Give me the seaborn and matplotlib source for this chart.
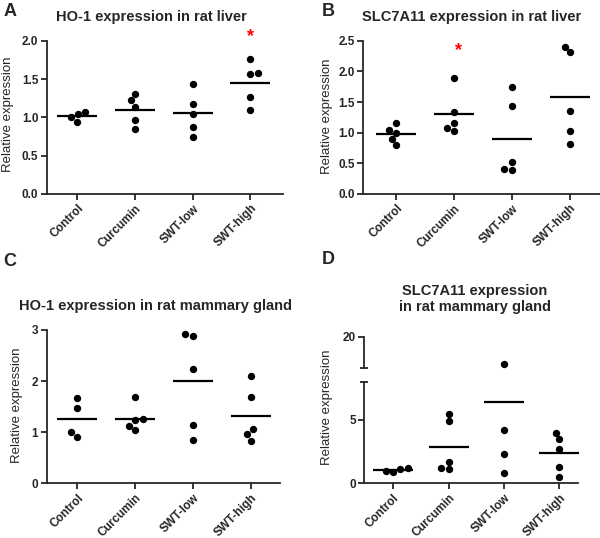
import numpy as np
import pandas as pd
import seaborn as sns
import matplotlib.pyplot as plt

groups = ['Control', 'Curcumin', 'SWT-low', 'SWT-high']

# A: HO-1 in rat liver
ho1_liver_control = [1.05, 1.07, 0.94, 1.00]
ho1_liver_curcumin = [1.31, 1.22, 1.14, 0.97, 0.85]
ho1_liver_swt_low = [1.44, 1.18, 1.04, 0.87, 0.74]
ho1_liver_swt_high = [1.76, 1.57, 1.58, 1.27, 1.09]

# B: SLC7A11 in rat liver
slc_liver_control = [1.16, 1.05, 1.00, 0.90, 0.80]
slc_liver_curcumin = [1.89, 1.34, 1.16, 1.03, 1.08]
slc_liver_swt_low = [1.75, 1.43, 0.52, 0.39, 0.40]
slc_liver_swt_high = [2.40, 2.31, 1.36, 1.03, 0.82]

# C: HO-1 in rat mammary gland
ho1_mam_control = [1.66, 1.48, 0.91, 1.00]
ho1_mam_curcumin = [1.69, 1.23, 1.26, 1.12, 1.04]
ho1_mam_swt_low = [2.93, 2.89, 2.23, 1.15, 0.85]
ho1_mam_swt_high = [2.10, 1.68, 1.06, 0.96, 0.83]

# D: SLC7A11 in rat mammary gland
slc_mam_control = [1.13, 0.87, 0.97, 1.18]
slc_mam_curcumin = [5.45, 4.87, 1.71, 1.13, 1.18]
slc_mam_swt_low = [18.3, 4.21, 2.29, 0.79]
slc_mam_swt_high = [3.97, 3.45, 2.68, 1.26, 0.50]


def long_df(*series):
    rows = []
    for g, vals in zip(groups, series):
        for v in vals:
            rows.append({'group': g, 'value': v})
    return pd.DataFrame(rows)


df_a = long_df(ho1_liver_control, ho1_liver_curcumin, ho1_liver_swt_low, ho1_liver_swt_high)
df_b = long_df(slc_liver_control, slc_liver_curcumin, slc_liver_swt_low, slc_liver_swt_high)
df_c = long_df(ho1_mam_control, ho1_mam_curcumin, ho1_mam_swt_low, ho1_mam_swt_high)
df_d = long_df(slc_mam_control, slc_mam_curcumin, slc_mam_swt_low, slc_mam_swt_high)

sns.set_style('ticks')
plt.rcParams['font.family'] = ['Liberation Sans', 'DejaVu Sans']
plt.rcParams['axes.linewidth'] = 1.3

W, H = 600, 538
fig = plt.figure(figsize=(6, 5.38), dpi=100)


def box(left, top, right, bottom):
    return [left / W, 1 - bottom / H, (right - left) / W, (bottom - top) / H]


def draw(ax, df, xlim, ylim, yticks, ylabels, xlabels=True):
    sns.swarmplot(data=df, x='group', y='value', order=groups, color='black',
                  size=5.3, ax=ax)
    sns.pointplot(data=df, x='group', y='value', order=groups, estimator='mean',
                  errorbar=None, linestyle='none', marker='_', markersize=29,
                  markeredgewidth=1.6, color='black', ax=ax)
    ax.set_xlim(*xlim)
    ax.set_ylim(*ylim)
    ax.set_yticks(yticks)
    ax.set_yticklabels(ylabels, fontweight='bold', fontsize=8.5)
    ax.set_xlabel('')
    ax.set_ylabel('')
    sns.despine(ax=ax)
    ax.tick_params(axis='both', length=4, width=1.3, pad=2)
    if xlabels:
        ax.set_xticks(range(4))
        ax.set_xticklabels(groups, rotation=45, ha='right', rotation_mode='anchor',
                           fontweight='bold', fontsize=8.5)
    else:
        ax.set_xticks([])
        ax.spines['bottom'].set_visible(False)


ax_a = fig.add_axes(box(46.7, 40.7, 282.7, 194))
draw(ax_a, df_a, (-0.53, 3.56), (0, 2.0), [0, 0.5, 1.0, 1.5, 2.0],
     ['0.0', '0.5', '1.0', '1.5', '2.0'])
ax_a.text(3, 2.05, '*', color='red', fontsize=13, fontweight='bold',
          ha='center', va='center', clip_on=False)

ax_b = fig.add_axes(box(363.3, 40.7, 600, 194))
draw(ax_b, df_b, (-0.57, 3.52), (0, 2.5), [0, 0.5, 1.0, 1.5, 2.0, 2.5],
     ['0.0', '0.5', '1.0', '1.5', '2.0', '2.5'])
ax_b.text(1.08, 2.34, '*', color='red', fontsize=13, fontweight='bold',
          ha='center', va='center', clip_on=False)

ax_c = fig.add_axes(box(46.7, 330, 280, 483.3))
draw(ax_c, df_c, (-0.53, 3.51), (0, 3), [0, 1, 2, 3], ['0', '1', '2', '3'])

# D: broken y axis
ax_d_top = fig.add_axes(box(364.3, 336.7, 578.3, 368.3))
ax_d = fig.add_axes(box(364.3, 381.7, 578.3, 483.3))
draw(ax_d_top, df_d, (-0.52, 3.34), (18, 20), [20], ['20'], xlabels=False)
draw(ax_d, df_d, (-0.52, 3.34), (0, 8), [0, 5], ['0', '5'])
ax_d_top.set_yticks([18], minor=True)
ax_d.set_yticks([8], minor=True)
for a in (ax_d_top, ax_d):
    a.tick_params(axis='y', which='minor', direction='inout', length=6, width=1.3)

# titles
fig.text(151.5 / W, 1 - 17.5 / H, 'HO-1 expression in rat liver', ha='center',
         va='center', fontsize=10.5, fontweight='bold')
fig.text(471.3 / W, 1 - 17.5 / H, 'SLC7A11 expression in rat liver', ha='center',
         va='center', fontsize=10.5, fontweight='bold')
fig.text(155.8 / W, 1 - 306 / H, 'HO-1 expression in rat mammary gland', ha='center',
         va='center', fontsize=10.5, fontweight='bold')
fig.text(475 / W, 1 - 299 / H, 'SLC7A11 expression\nin rat mammary gland', ha='center',
         va='center', fontsize=10.5, fontweight='bold', linespacing=1.15)

# y labels
for x, y in [(8.5, 114), (326.7, 116), (16.7, 405), (327.5, 407.5)]:
    fig.text(x / W, 1 - y / H, 'Relative expression', rotation=90, ha='center',
             va='center', fontsize=9.5)

# panel letters
for letter, x, y in [('A', 10, 12), ('B', 328, 12), ('C', 10, 261), ('D', 328, 259)]:
    fig.text(x / W, 1 - y / H, letter, ha='center', va='center', fontsize=13,
             fontweight='bold')

fig.savefig('out.png', dpi=100, facecolor='white')
